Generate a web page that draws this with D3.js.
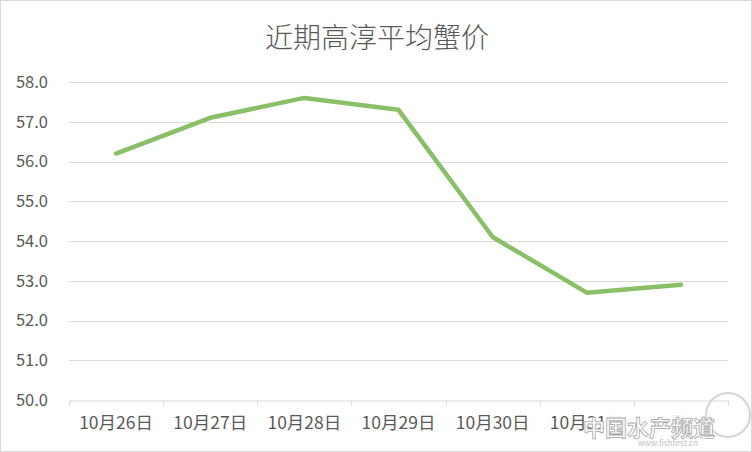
<!DOCTYPE html>
<html>
<head>
<meta charset="utf-8">
<script src="https://cdn.jsdelivr.net/npm/d3@7"></script>
<style>
  body { margin: 0; background: #fff; }
  text { font-family: "Noto Sans CJK SC", "Noto Sans", sans-serif; }
</style>
</head>
<body>
<div id="chart"></div>
<script>
'use strict';

// chart data
const dates = ['10月26日', '10月27日', '10月28日', '10月29日', '10月30日', '10月31日', '11月1日'];
const prices = [56.2, 57.1, 57.6, 57.3, 54.1, 52.7, 52.9];
const yTicks = [50, 51, 52, 53, 54, 55, 56, 57, 58];
const title = '近期高淳平均蟹价';

const size = { width: 752, height: 452 };
const plot = { left: 69, right: 728, top: 82, bottom: 400 };

const svg = d3.select('#chart')
    .append('svg')
    .attr('width', size.width)
    .attr('height', size.height);

// outer border
svg.append('rect')
    .attr('x', 0.5).attr('y', 0.5)
    .attr('width', size.width - 1).attr('height', size.height - 1)
    .attr('fill', '#fff')
    .attr('stroke', '#d9d9d9');

const x = d3.scaleBand()
    .domain(dates)
    .range([plot.left, plot.right]);

const y = d3.scaleLinear()
    .domain([50, 58])
    .range([plot.bottom, plot.top]);

// gridlines
svg.append('g')
    .selectAll('line')
    .data(yTicks.filter(d => d !== 50))
    .enter()
    .append('line')
    .attr('x1', plot.left)
    .attr('x2', plot.right)
    .attr('y1', d => Math.round(y(d)) + 0.5)
    .attr('y2', d => Math.round(y(d)) + 0.5)
    .attr('stroke', '#d9d9d9')
    .attr('stroke-width', 1);

// y labels
svg.append('g')
    .selectAll('text')
    .data(yTicks)
    .enter()
    .append('text')
    .attr('x', 48)
    .attr('y', d => y(d))
    .attr('dy', '0.35em')
    .attr('text-anchor', 'end')
    .attr('fill', '#595959')
    .style('font-size', '16.5px')
    .text(d => d.toFixed(1));

// x axis with ticks between categories
const xAxis = d3.axisBottom(x).tickSize(0).tickPadding(16);
const gx = svg.append('g')
    .attr('transform', 'translate(0,' + (Math.round(y(50)) + 0.5) + ')')
    .call(xAxis);
gx.select('.domain').attr('stroke', '#d9d9d9');
gx.selectAll('text')
    .attr('fill', '#595959')
    .style('font-size', '17.5px')
    .style('font-family', '"Noto Sans CJK SC", sans-serif');

const bounds = dates.map(d => x(d)).concat([plot.right]);
gx.selectAll('.sep')
    .data(bounds)
    .enter()
    .append('line')
    .attr('class', 'sep')
    .attr('x1', d => Math.round(d) + 0.5)
    .attr('x2', d => Math.round(d) + 0.5)
    .attr('y1', 0)
    .attr('y2', 5)
    .attr('stroke', '#d9d9d9');

// price line
const line = d3.line()
    .x((d, i) => x(dates[i]) + x.bandwidth() / 2)
    .y(d => y(d));

svg.append('path')
    .datum(prices)
    .attr('d', line)
    .attr('fill', 'none')
    .attr('stroke', '#88bf67')
    .attr('stroke-width', 4.5)
    .attr('stroke-linejoin', 'round')
    .attr('stroke-linecap', 'round');

// title
svg.append('text')
    .attr('x', size.width / 2 + 1)
    .attr('y', 38)
    .attr('dy', '0.35em')
    .attr('text-anchor', 'middle')
    .attr('fill', '#595959')
    .style('font-size', '28px')
    .style('font-weight', 300)
    .text(title);

// watermark (sits over the last labels, as in the source image)
const wm = svg.append('g');
wm.append('rect')
    .attr('x', 604).attr('y', 409)
    .attr('width', 146).attr('height', 41)
    .attr('fill', '#ffffff').attr('opacity', 0.92);
wm.append('circle')
    .attr('cx', 728).attr('cy', 415).attr('r', 22)
    .attr('fill', 'none').attr('stroke', '#d4d4d4').attr('stroke-width', 2);
wm.append('text')
    .attr('x', 649).attr('y', 436)
    .attr('text-anchor', 'middle')
    .attr('fill', '#ffffff')
    .attr('stroke', '#a8a8a8')
    .attr('stroke-width', 0.8)
    .style('font-size', '22px')
    .style('font-weight', 'bold')
    .text('中国水产频道');
wm.append('text')
    .attr('x', 668).attr('y', 446)
    .attr('text-anchor', 'middle')
    .attr('fill', '#c0c0c0')
    .style('font-size', '8px')
    .text('www.fishfirst.cn');
</script>
</body>
</html>
